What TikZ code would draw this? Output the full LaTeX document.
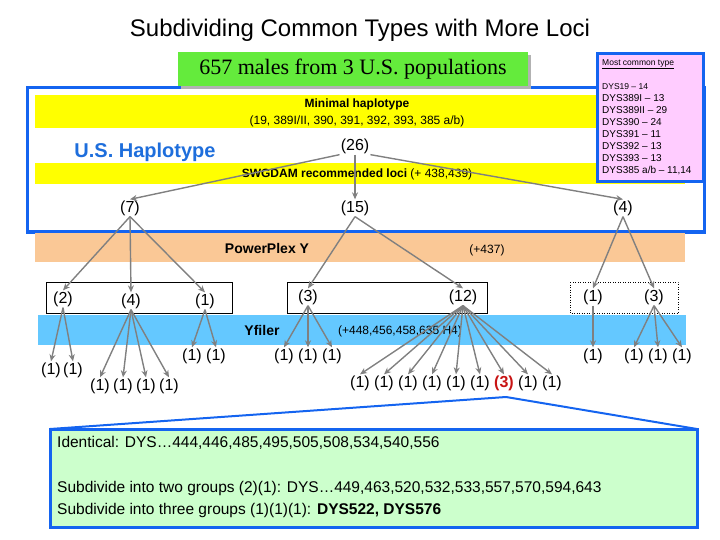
\documentclass[tikz,border=0pt]{standalone}
\usepackage{fontspec}
\setmainfont{Liberation Sans}
\newfontfamily\serifff{Liberation Serif}
\usetikzlibrary{arrows.meta}
\definecolor{bblue}{RGB}{20,100,240}
\definecolor{hblue}{RGB}{30,110,220}
\definecolor{ygold}{RGB}{255,255,0}
\definecolor{orng}{RGB}{250,200,150}
\definecolor{cyanb}{RGB}{100,200,255}
\definecolor{gbox}{RGB}{100,235,60}
\definecolor{pinkb}{RGB}{255,204,255}
\definecolor{lgreen}{RGB}{204,255,204}
\definecolor{arrg}{RGB}{128,128,128}
\definecolor{dred}{RGB}{200,20,20}
\begin{document}
\begin{tikzpicture}[x=1pt,y=-1pt,
  num/.style={inner sep=1pt,font=\fontsize{16}{18}\selectfont},
  arr/.style={draw=arrg,line width=1.4pt,-{Stealth[length=7pt,width=6pt]}},
  band/.style={draw=none}]
\useasboundingbox (0,0) rectangle (720,540);
\node (title) at (360,30) {\fontsize{24}{28}\selectfont Subdividing Common Types with More Loci};
% blue frame
\draw[bblue,line width=3pt] (27,88) rectangle (704,232);
\fill[ygold] (35,95) rectangle (685,128);
\fill[ygold] (35,163) rectangle (685,184);
\node (minh) at (357,104) {\fontsize{12}{14}\selectfont\bfseries Minimal haplotype};
\node (minl) at (357,121) {\fontsize{12}{14}\selectfont (19, 389I/II, 390, 391, 392, 393, 385 a/b)};
\node (ush) at (145,152) {\fontsize{20}{24}\selectfont\bfseries\color{hblue}U.S. Haplotype};
\node (swg) at (357,174) {\fontsize{12}{14}\selectfont\textbf{SWGDAM recommended loci} (+ 438,439)};
% green box
\fill[gray!60] (181,55) rectangle (531,89);
\node[fill=gbox,minimum width=350pt,minimum height=34pt,inner sep=0pt] (males) at (353,69) {\serifff\fontsize{22}{24}\selectfont 657 males from 3 U.S. populations};
% pink box
\node[draw=bblue,line width=3pt,fill=pinkb,minimum width=106pt,minimum height=128pt,inner sep=0pt] (pink) at (650,118) {};
\node[anchor=west,inner sep=0pt] (mct) at (602,64) {\fontsize{8.5}{10}\selectfont\underline{Most common type}};
\node[anchor=north west,inner sep=0pt,align=left] (list) at (602,83) {\fontsize{8.5}{12}\selectfont DYS19 -- 14\\DYS389I -- 13\\DYS389II -- 29\\DYS390 -- 24\\DYS391 -- 11\\DYS392 -- 13\\DYS393 -- 13\\DYS385 a/b -- 11,14};
% level 1,2
\node[num] (n26) at (355,146) {(26)};
\node[num] (n7) at (130,208) {(7)};
\node[num] (n15) at (355,208) {(15)};
\node[num] (n4a) at (623,208) {(4)};
\draw[arr] (n26.south west) -- (n7.north);
\draw[arr] (n26.south) -- (n15.north);
\draw[arr] (n26.south east) -- (n4a.north);
% orange band
\fill[orng] (35,233) rectangle (685,262);
\node (ppy) at (267,248) {\fontsize{14}{16}\selectfont\bfseries PowerPlex Y};
\node (p437) at (487,250) {\fontsize{12}{14}\selectfont (+437)};
% boxes row 3
\draw[black,line width=0.5pt] (46,282) rectangle (232,313);
\draw[black,line width=0.5pt] (287,282) rectangle (487,313);
\draw[black,line width=0.5pt,dotted] (570,282) rectangle (678,313);
% blue band
\fill[cyanb] (38,315) rectangle (686,345);
\node (yf) at (262,330) {\fontsize{14}{16}\selectfont\bfseries Yfiler};
\node (yfl) at (400,331) {\fontsize{12}{14}\selectfont (+448,456,458,635 H4)};
% row 3
\node[num] (r2) at (63,299) {(2)};
\node[num] (r4) at (131,301) {(4)};
\node[num] (r1) at (205,301) {(1)};
\node[num] (r3) at (308,297) {(3)};
\node[num] (r12) at (463,297) {(12)};
\node[num] (s1) at (593,297) {(1)};
\node[num] (s3) at (654,297) {(3)};
\foreach \c in {r2,r4,r1} \draw[arr] (n7.south) -- (\c.north);
\foreach \c in {r3,r12} \draw[arr] (n15.south) -- (\c.north);
\foreach \c in {s1,s3} \draw[arr] (n4a.south) -- (\c.north);
% row 4
\node[num] (a1) at (51,370) {(1)};
\node[num] (a2) at (73,370) {(1)};
\foreach \x/\n in {100/b1,123/b2,146/b3,169/b4} \node[num] (\n) at (\x,386) {(1)};
\node[num] (c1) at (192,356) {(1)};
\node[num] (c2) at (216,356) {(1)};
\foreach \x/\n in {284/d1,308/d2,332/d3} \node[num] (\n) at (\x,356) {(1)};
\foreach \x/\n in {360/e1,384/e2,408/e3,432/e4,456/e5,480/e6,528/e8,552/e9} \node[num] (\n) at (\x,383) {(1)};
\node[num,text=dred,font=\fontsize{16}{18}\selectfont\bfseries] (e7) at (504,383) {(3)};
\node[num] (f1) at (593,356) {(1)};
\foreach \x/\n in {634/g1,658/g2,682/g3} \node[num] (\n) at (\x,356) {(1)};
\foreach \c in {a1,a2} \draw[arr] (r2.south) -- (\c.north);
\foreach \c in {b1,b2,b3,b4} \draw[arr] (r4.south) -- (\c.north);
\foreach \c in {c1,c2} \draw[arr] (r1.south) -- (\c.north);
\foreach \c in {d1,d2,d3} \draw[arr] (r3.south) -- (\c.north);
\foreach \c in {e1,e2,e3,e4,e5,e6,e7,e8,e9} \draw[arr] (r12.south) -- (\c.north);
\draw[arr] (s1.south) -- (f1.north);
\foreach \c in {g1,g2,g3} \draw[arr] (s3.south) -- (\c.north);
% callout
\coordinate (apex) at (506,397);
\draw[bblue,line width=2pt] (50,429) -- (apex) -- (697,429);
\draw[bblue,line width=3pt,fill=lgreen] (50,429) rectangle (697,527);
\node[anchor=west,inner sep=0pt] (t1) at (57,443) {\fontsize{15.5}{18}\selectfont Identical: DYS\dots444,446,485,495,505,508,534,540,556};
\node[anchor=west,inner sep=0pt] (t2) at (57,488) {\fontsize{15.5}{18}\selectfont Subdivide into two groups (2)(1): DYS\dots449,463,520,532,533,557,570,594,643};
\node[anchor=west,inner sep=0pt] (t3) at (57,510) {\fontsize{15.5}{18}\selectfont Subdivide into three groups (1)(1)(1): \textbf{DYS522, DYS576}};
\end{tikzpicture}
\end{document}
